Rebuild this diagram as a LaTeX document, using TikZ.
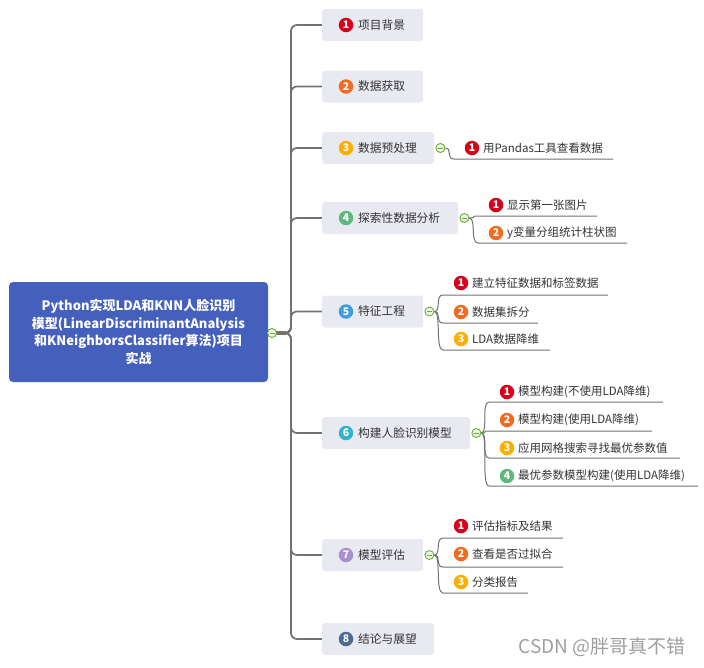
\documentclass[tikz,border=0pt]{standalone}
\usepackage{fontspec}
\setmainfont{Noto Sans CJK SC}
\usetikzlibrary{calc,backgrounds}
\definecolor{rootblue}{HTML}{4460BC}
\definecolor{boxfill}{HTML}{E8E9F1}
\definecolor{linegray}{HTML}{727272}
\definecolor{txt}{HTML}{333333}
\definecolor{bred}{HTML}{D5001C}
\definecolor{borange}{HTML}{F26B21}
\definecolor{byellow}{HTML}{FFAE00}
\definecolor{bgreen}{HTML}{5DB97C}
\definecolor{bblue}{HTML}{3D9BE0}
\definecolor{bteal}{HTML}{2FB5CA}
\definecolor{bpurple}{HTML}{A88FD0}
\definecolor{bdark}{HTML}{4B6A90}
\definecolor{cgreen}{HTML}{6AAE3A}
\definecolor{cfill}{HTML}{EEF7E4}
\newcommand\leafitem[9]{%
  \node[badge=#3] (#1b) at (#5,#6) {#4};
  \node[leaftext] (#1) at (#5+11,#6) {#9};
  \coordinate (#1s) at (#5-18,#7);
  \coordinate (#1e) at (#8,#7);
  \begin{pgfonlayer}{background}
  \draw[leafline] (#2.east) .. controls +(7,0) and +(-8,0) .. (#1s) -- (#1e);
  \end{pgfonlayer}
}
\begin{document}
\begin{tikzpicture}[x=1pt,y=-1pt,
  root/.style={fill=rootblue, rounded corners=4pt, minimum width=259pt, minimum height=100pt,
    text width=250pt, align=center, text=white, inner sep=0pt,
    font=\bfseries\fontsize{13}{17.7}\selectfont},
  topic/.style={fill=boxfill, rounded corners=3pt, minimum height=32pt, anchor=west,
    inner xsep=0pt, align=left, text=txt, font=\fontsize{11.7}{14}\selectfont},
  leaftext/.style={anchor=west, inner sep=0pt, text=txt, font=\fontsize{11.5}{14}\selectfont},
  badge/.style={circle, fill=#1, minimum size=14.5pt, inner sep=0pt, text=white,
    font=\bfseries\fontsize{10.5}{10.5}\selectfont},
  collapse/.style={circle, draw=cgreen, fill=cfill, line width=0.9pt, minimum size=9pt, inner sep=0pt,
    path picture={\draw[cgreen, line width=0.9pt] ([xshift=2pt]path picture bounding box.west) -- ([xshift=-2pt]path picture bounding box.east);}},
  trunkline/.style={draw=linegray, line width=1.7pt, rounded corners=6pt},
  leafline/.style={draw=linegray, line width=1pt},
  watermark/.style={text=gray!75, font=\fontsize{19}{22}\selectfont, inner sep=0pt}
]
\useasboundingbox (0,0) rectangle (704,667);

% root
\node[root] (root) at (138.5,332) {Python实现LDA和KNN人脸识别\\模型(LinearDiscriminantAnalysis\\和KNeighborsClassifier算法)项目\\实战};
\node[collapse] (rc) at (272,333) {};
\coordinate (tr) at (291,333);

% topics
\node[topic, text width=101pt] (c1) at (322,25) {\hspace*{36pt}项目背景};
\node[topic, text width=101pt] (c2) at (322,86.5) {\hspace*{36pt}数据获取};
\node[topic, text width=112pt] (c3) at (322,148) {\hspace*{36pt}数据预处理};
\node[topic, text width=136pt] (c4) at (322,218) {\hspace*{36pt}探索性数据分析};
\node[topic, text width=101pt] (c5) at (322,311.5) {\hspace*{36pt}特征工程};
\node[topic, text width=148pt] (c6) at (322,433) {\hspace*{36pt}构建人脸识别模型};
\node[topic, text width=101pt] (c7) at (322,555) {\hspace*{36pt}模型评估};
\node[topic, text width=112pt] (c8) at (322,639) {\hspace*{36pt}结论与展望};

\node[badge=bred] (c1b) at (346,25) {1};
\node[badge=borange] (c2b) at (346,86.5) {2};
\node[badge=byellow] (c3b) at (346,148) {3};
\node[badge=bgreen] (c4b) at (346,218) {4};
\node[badge=bblue] (c5b) at (346,311.5) {5};
\node[badge=bteal] (c6b) at (346,433) {6};
\node[badge=bpurple] (c7b) at (346,555) {7};
\node[badge=bdark] (c8b) at (346,639) {8};

\begin{pgfonlayer}{background}
\draw[linegray, line width=4pt] (rc.center) -- (286,333);
\foreach \c in {c1,c2,c3,c4,c5,c6,c7,c8}{
  \draw[trunkline] (rc.east) -- (tr) -- (tr |- \c.west) -- (\c.west);
}
\end{pgfonlayer}

% collapse markers of topics
\node[collapse] (k3) at ([xshift=6pt]c3.east) {};
\node[collapse] (k4) at ([xshift=6pt]c4.east) {};
\node[collapse] (k5) at ([xshift=6pt]c5.east) {};
\node[collapse] (k6) at ([xshift=6pt]c6.east) {};
\node[collapse] (k7) at ([xshift=6pt]c7.east) {};

% leaves
\leafitem{l31}{k3}{bred}{1}{472}{148}{159}{613}{用Pandas工具查看数据}
\leafitem{l41}{k4}{bred}{1}{496}{205}{216}{597}{显示第一张图片}
\leafitem{l42}{k4}{borange}{2}{496}{233}{243}{627}{y变量分组统计柱状图}
\leafitem{l51}{k5}{bred}{1}{461}{283}{295}{608}{建立特征数据和标签数据}
\leafitem{l52}{k5}{borange}{2}{461}{312}{323}{538}{数据集拆分}
\leafitem{l53}{k5}{byellow}{3}{461}{339}{350}{550}{LDA数据降维}
\leafitem{l61}{k6}{bred}{1}{507}{392}{402}{663}{模型构建(不使用LDA降维)}
\leafitem{l62}{k6}{borange}{2}{507}{420}{431}{652}{模型构建(使用LDA降维)}
\leafitem{l63}{k6}{byellow}{3}{507}{448}{458}{680}{应用网格搜索寻找最优参数值}
\leafitem{l64}{k6}{bgreen}{4}{507}{476}{486}{698}{最优参数模型构建(使用LDA降维)}
\leafitem{l71}{k7}{bred}{1}{461}{526}{538}{563}{评估指标及结果}
\leafitem{l72}{k7}{borange}{2}{461}{554}{567}{563}{查看是否过拟合}
\leafitem{l73}{k7}{byellow}{3}{461}{582}{593}{528}{分类报告}

% watermark
\node[watermark] (wm) at (602,647) {CSDN @胖哥真不错};
\end{tikzpicture}
\end{document}
